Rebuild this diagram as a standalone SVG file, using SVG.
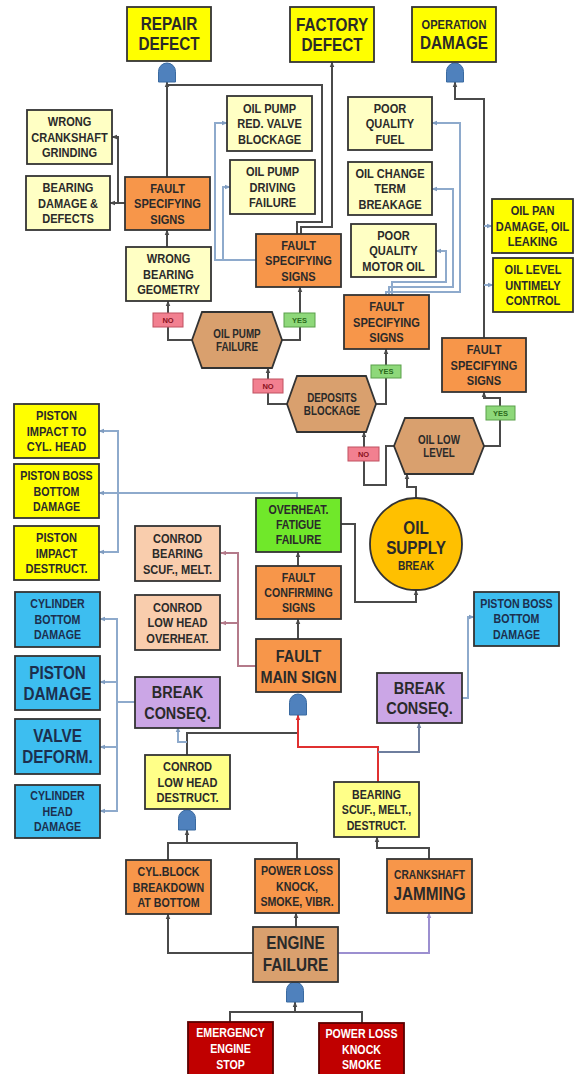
<svg xmlns="http://www.w3.org/2000/svg" width="575" height="1074" viewBox="0 0 575 1074">
<style>
text{font-family:"Liberation Sans",Arial,sans-serif;font-weight:bold;text-anchor:middle;fill:#2a2a2a;font-size:13px}
.m{font-size:12.5px}.l{font-size:18px}.k{font-size:17px}.h{font-size:12px}.xs{font-size:7.5px}
.w{fill:#fff}.nv{fill:#1c2f4e}.rn{fill:#8a1020}.gn{fill:#2a6a1a}
rect,polygon,circle{stroke:#333;stroke-width:1.8}
.yl{fill:#ffff00}.py{fill:#ffffc4}.ly{fill:#ffff88}.or{fill:#f7964a}.tn{fill:#d9a06e}.bl{fill:#3dbef0}.pu{fill:#cba6e6}.pe{fill:#f9cdad}.gr{fill:#70e82a}.dr{fill:#c00000;stroke:#5a0000}
.yes{fill:#8ed87a;stroke:#5aa04a;stroke-width:1}.no{fill:#f28090;stroke:#c05060;stroke-width:1}
.gate{fill:#4f81bd;stroke:#3a6aa0;stroke-width:1}
#connectors path{fill:none;stroke-width:2}
.d{stroke:#4a4a4a}.b{stroke:#8eaacc}.mv{stroke:#b47a8a}.r{stroke:#e03030}.p{stroke:#9c8fd0}.g2{stroke:#6e7e9e}
</style>
<defs>
<marker id="ad" viewBox="0 0 10 10" refX="9" refY="5" markerWidth="6" markerHeight="6" markerUnits="userSpaceOnUse" orient="auto"><path d="M0,1 L10,5 L0,9 z" fill="#4a4a4a"/></marker>
<marker id="ab" viewBox="0 0 10 10" refX="9" refY="5" markerWidth="6" markerHeight="6" markerUnits="userSpaceOnUse" orient="auto"><path d="M0,1 L10,5 L0,9 z" fill="#7f9cc0"/></marker>
<marker id="am" viewBox="0 0 10 10" refX="9" refY="5" markerWidth="6" markerHeight="6" markerUnits="userSpaceOnUse" orient="auto"><path d="M0,1 L10,5 L0,9 z" fill="#b47a8a"/></marker>
<marker id="ar" viewBox="0 0 10 10" refX="9" refY="5" markerWidth="6" markerHeight="6" markerUnits="userSpaceOnUse" orient="auto"><path d="M0,1 L10,5 L0,9 z" fill="#e03030"/></marker>
<marker id="ap" viewBox="0 0 10 10" refX="9" refY="5" markerWidth="6" markerHeight="6" markerUnits="userSpaceOnUse" orient="auto"><path d="M0,1 L10,5 L0,9 z" fill="#9c8fd0"/></marker>
<marker id="ag" viewBox="0 0 10 10" refX="9" refY="5" markerWidth="6" markerHeight="6" markerUnits="userSpaceOnUse" orient="auto"><path d="M0,1 L10,5 L0,9 z" fill="#6e7e9e"/></marker>
</defs>

<g id="connectors">
<path class="d" d="M167,177 V82" marker-end="url(#ad)"/>
<path class="d" d="M297,234 V222 H322 V85 H167"/>
<path class="d" d="M301,234 V227 H332 V62" marker-end="url(#ad)"/>
<path class="d" d="M125,203 H110" marker-end="url(#ad)"/>
<path class="d" d="M118,203 V137 H112" marker-end="url(#ad)"/>
<path class="b" d="M256,260 H215 V123 H227" marker-end="url(#ab)"/>
<path class="b" d="M223,260 V187 H230" marker-end="url(#ab)"/>
<path class="d" d="M167,247 V230" marker-end="url(#ad)"/>
<path class="d" d="M192,340 H168 V301" marker-end="url(#ad)"/>
<path class="d" d="M282,340 H300 V287" marker-end="url(#ad)"/>
<path class="d" d="M287,404 H268 V368" marker-end="url(#ad)"/>
<path class="d" d="M376,404 H386 V349" marker-end="url(#ad)"/>
<path class="d" d="M394,446 H386 V485 H364 V432" marker-end="url(#ad)"/>
<path class="d" d="M484,446 H500 V398 H484 V392" marker-end="url(#ad)"/>
<path class="d" d="M484,338 V99 H455 V82" marker-end="url(#ad)"/>
<path class="b" d="M484,226 H492" marker-end="url(#ab)"/>
<path class="b" d="M484,285 H493" marker-end="url(#ab)"/>
<path class="b" d="M386,295 V292 H460 V123 H432" marker-end="url(#ab)"/>
<path class="b" d="M389,295 V287 H453 V189 H432" marker-end="url(#ab)"/>
<path class="b" d="M392,295 V282 H446 V251 H436" marker-end="url(#ab)"/>
<path class="d" d="M416,498 V487 H407 V474" marker-end="url(#ad)"/>
<path class="d" d="M341,524 H355 V602 H416 V590" marker-end="url(#ad)"/>
<path class="d" d="M298,566 V552" marker-end="url(#ad)"/>
<path class="d" d="M298,639 V619" marker-end="url(#ad)"/>
<path class="b" d="M297,498 V493 H99" marker-end="url(#ab)"/>
<path class="b" d="M118,493 V431 H99" marker-end="url(#ab)"/>
<path class="b" d="M118,493 V552 H99" marker-end="url(#ab)"/>
<path class="mv" d="M256,666 H238 V553 H221" marker-end="url(#am)"/>
<path class="mv" d="M238,623 H221" marker-end="url(#am)"/>
<path class="b" d="M135,702 H117 V619 H100" marker-end="url(#ab)"/>
<path class="b" d="M117,682 H100" marker-end="url(#ab)"/>
<path class="b" d="M117,702 V811 H100" marker-end="url(#ab)"/>
<path class="b" d="M117,747 H100" marker-end="url(#ab)"/>
<path class="b" d="M462,698 H468 V617 H474" marker-end="url(#ab)"/>
<path class="d" d="M187,755 V733 H298"/>
<path class="b" d="M187,742 H178 V727" marker-end="url(#ab)"/>
<path class="r" d="M378,782 V747 H298 V715" marker-end="url(#ar)"/>
<path class="g2" d="M378,752 H419 V723" marker-end="url(#ag)"/>
<path class="d" d="M429,859 V848 H377 V837" marker-end="url(#ad)"/>
<path class="d" d="M168,860 V843 H297 V859"/>
<path class="d" d="M187,843 V830" marker-end="url(#ad)"/>
<path class="d" d="M253,953 H168 V914" marker-end="url(#ad)"/>
<path class="d" d="M296,927 V913" marker-end="url(#ad)"/>
<path class="p" d="M338,953 H429 V913" marker-end="url(#ap)"/>
<path class="d" d="M230,1022 V1012 H362 V1023"/>
<path class="d" d="M295,1012 V1002" marker-end="url(#ad)"/>
</g>

<g id="gate-repair"><path class="gate" d="M158.5,82 V71.5 A8.5,8.5 0 0 1 175.5,71.5 V82 Z"/></g>
<g id="gate-operation"><path class="gate" d="M446.5,82 V71.5 A8.5,8.5 0 0 1 463.5,71.5 V82 Z"/></g>
<g id="gate-main"><path class="gate" d="M289.5,715 V702.5 A8.5,8.5 0 0 1 306.5,702.5 V715 Z"/></g>
<g id="gate-conrod"><path class="gate" d="M178.5,830 V818.5 A8.5,8.5 0 0 1 195.5,818.5 V830 Z"/></g>
<g id="gate-engine"><path class="gate" d="M286.5,1002 V990.5 A8.5,8.5 0 0 1 303.5,990.5 V1002 Z"/></g>

<g id="repair-defect"><rect class="yl" x="127" y="7" width="84" height="54"/><text class="l" transform="translate(169,0) scale(.85,1)"><tspan x="0" y="30.5">REPAIR</tspan><tspan x="0" y="50.5">DEFECT</tspan></text></g>
<g id="factory-defect"><rect class="yl" x="290" y="7" width="84" height="55"/><text class="l" transform="translate(332,0) scale(.85,1)"><tspan x="0" y="31">FACTORY</tspan><tspan x="0" y="51">DEFECT</tspan></text></g>
<g id="operation-damage"><rect class="yl" x="412" y="7" width="84" height="55"/><text transform="translate(454,0) scale(.85,1)"><tspan x="0" y="28.7">OPERATION</tspan><tspan class="l" x="0" y="49.5">DAMAGE</tspan></text></g>

<g id="wrong-crankshaft"><rect class="py" x="27" y="110" width="85" height="54"/><text transform="translate(69.5,0) scale(.85,1)"><tspan x="0" y="126.2">WRONG</tspan><tspan x="0" y="141.7">CRANKSHAFT</tspan><tspan x="0" y="157.2">GRINDING</tspan></text></g>
<g id="bearing-damage"><rect class="py" x="26" y="176" width="84" height="54"/><text transform="translate(68,0) scale(.85,1)"><tspan x="0" y="192.2">BEARING</tspan><tspan x="0" y="207.7">DAMAGE &amp;</tspan><tspan x="0" y="223.2">DEFECTS</tspan></text></g>
<g id="fault-spec-1"><rect class="or" x="125" y="177" width="85" height="53"/><text transform="translate(167.5,0) scale(.85,1)"><tspan x="0" y="192.7">FAULT</tspan><tspan x="0" y="208.2">SPECIFYING</tspan><tspan x="0" y="223.7">SIGNS</tspan></text></g>
<g id="oil-pump-valve"><rect class="py" x="227" y="96" width="85" height="55"/><text transform="translate(269.5,0) scale(.85,1)"><tspan x="0" y="112.7">OIL PUMP</tspan><tspan x="0" y="128.2">RED. VALVE</tspan><tspan x="0" y="143.7">BLOCKAGE</tspan></text></g>
<g id="oil-pump-driving"><rect class="py" x="230" y="160" width="85" height="54"/><text transform="translate(272.5,0) scale(.85,1)"><tspan x="0" y="176.2">OIL PUMP</tspan><tspan x="0" y="191.7">DRIVING</tspan><tspan x="0" y="207.2">FAILURE</tspan></text></g>
<g id="fault-spec-2"><rect class="or" x="256" y="234" width="85" height="53"/><text transform="translate(298.5,0) scale(.85,1)"><tspan x="0" y="249.7">FAULT</tspan><tspan x="0" y="265.2">SPECIFYING</tspan><tspan x="0" y="280.7">SIGNS</tspan></text></g>
<g id="wrong-bearing"><rect class="py" x="126" y="247" width="85" height="54"/><text transform="translate(168.5,0) scale(.85,1)"><tspan x="0" y="263.2">WRONG</tspan><tspan x="0" y="278.7">BEARING</tspan><tspan x="0" y="294.2">GEOMETRY</tspan></text></g>
<g id="poor-fuel"><rect class="py" x="348" y="97" width="84" height="53"/><text transform="translate(390,0) scale(.85,1)"><tspan x="0" y="112.7">POOR</tspan><tspan x="0" y="128.2">QUALITY</tspan><tspan x="0" y="143.7">FUEL</tspan></text></g>
<g id="oil-change"><rect class="py" x="348" y="162" width="84" height="53"/><text transform="translate(390,0) scale(.85,1)"><tspan x="0" y="177.7">OIL CHANGE</tspan><tspan x="0" y="193.2">TERM</tspan><tspan x="0" y="208.7">BREAKAGE</tspan></text></g>
<g id="poor-oil"><rect class="py" x="351" y="224" width="85" height="53"/><text transform="translate(393.5,0) scale(.85,1)"><tspan x="0" y="239.7">POOR</tspan><tspan x="0" y="255.2">QUALITY</tspan><tspan x="0" y="270.7">MOTOR OIL</tspan></text></g>
<g id="oil-pan"><rect class="yl" x="492" y="199" width="81" height="54"/><text transform="translate(532.5,0) scale(.85,1)"><tspan x="0" y="215.2">OIL PAN</tspan><tspan x="0" y="230.7">DAMAGE, OIL</tspan><tspan x="0" y="246.2">LEAKING</tspan></text></g>
<g id="oil-level-control"><rect class="yl" x="493" y="258" width="80" height="54"/><text transform="translate(533,0) scale(.85,1)"><tspan x="0" y="274.2">OIL LEVEL</tspan><tspan x="0" y="289.7">UNTIMELY</tspan><tspan x="0" y="305.2">CONTROL</tspan></text></g>
<g id="fault-spec-3"><rect class="or" x="344" y="295" width="85" height="54"/><text transform="translate(386.5,0) scale(.85,1)"><tspan x="0" y="311.2">FAULT</tspan><tspan x="0" y="326.7">SPECIFYING</tspan><tspan x="0" y="342.2">SIGNS</tspan></text></g>
<g id="fault-spec-4"><rect class="or" x="442" y="338" width="84" height="54"/><text transform="translate(484,0) scale(.85,1)"><tspan x="0" y="354.2">FAULT</tspan><tspan x="0" y="369.7">SPECIFYING</tspan><tspan x="0" y="385.2">SIGNS</tspan></text></g>

<g id="oil-pump-failure"><polygon class="tn" points="192,340 202,312 272,312 282,340 272,368 202,368"/><text class="h" transform="translate(237,0) scale(.82,1)"><tspan x="0" y="337.8">OIL PUMP</tspan><tspan x="0" y="350.8">FAILURE</tspan></text></g>
<g id="deposits-blockage"><polygon class="tn" points="287,404 297,376 366,376 376,404 366,432 297,432"/><text class="h" transform="translate(332,0) scale(.82,1)"><tspan x="0" y="401.8">DEPOSITS</tspan><tspan x="0" y="414.8">BLOCKAGE</tspan></text></g>
<g id="oil-low-level"><polygon class="tn" points="394,446 405,418 473,418 484,446 473,474 405,474"/><text class="h" transform="translate(439,0) scale(.82,1)"><tspan x="0" y="443.8">OIL  LOW</tspan><tspan x="0" y="456.8">LEVEL</tspan></text></g>

<g id="no-1"><rect class="no" x="153" y="313" width="30" height="14"/><text class="xs rn" x="168" y="322.7">NO</text></g>
<g id="yes-1"><rect class="yes" x="284" y="313" width="31" height="14"/><text class="xs gn" x="299.5" y="322.7">YES</text></g>
<g id="no-2"><rect class="no" x="253" y="379" width="30" height="14"/><text class="xs rn" x="268" y="388.7">NO</text></g>
<g id="yes-2"><rect class="yes" x="371" y="365" width="30" height="13"/><text class="xs gn" x="386" y="374.2">YES</text></g>
<g id="no-3"><rect class="no" x="348" y="447" width="31" height="14"/><text class="xs rn" x="363.5" y="456.7">NO</text></g>
<g id="yes-3"><rect class="yes" x="486" y="406" width="29" height="14"/><text class="xs gn" x="500.5" y="415.7">YES</text></g>

<g id="piston-impact-head"><rect class="yl" x="14" y="404" width="85" height="54"/><text transform="translate(56.5,0) scale(.85,1)"><tspan x="0" y="420.2">PISTON</tspan><tspan x="0" y="435.7">IMPACT TO</tspan><tspan x="0" y="451.2">CYL. HEAD</tspan></text></g>
<g id="piston-boss-left"><rect class="yl" x="14" y="464" width="85" height="54"/><text class="m" transform="translate(56.5,0) scale(.85,1)"><tspan x="0" y="480.2">PISTON BOSS</tspan><tspan x="0" y="495.7">BOTTOM</tspan><tspan x="0" y="511.2">DAMAGE</tspan></text></g>
<g id="piston-impact-destruct"><rect class="yl" x="14" y="526" width="85" height="54"/><text transform="translate(56.5,0) scale(.85,1)"><tspan x="0" y="542.2">PISTON</tspan><tspan x="0" y="557.7">IMPACT</tspan><tspan x="0" y="573.2">DESTRUCT.</tspan></text></g>

<g id="overheat"><rect class="gr" x="256" y="498" width="85" height="54"/><text class="m" transform="translate(298.5,0) scale(.85,1)"><tspan x="0" y="514.5">OVERHEAT.</tspan><tspan x="0" y="529.5">FATIGUE</tspan><tspan x="0" y="544.5">FAILURE</tspan></text></g>
<g id="oil-supply-break"><circle fill="#ffc000" cx="416" cy="544" r="46"/><text class="l" transform="translate(416,0) scale(.85,1)"><tspan x="0" y="534.5">OIL</tspan><tspan x="0" y="554.5">SUPPLY</tspan><tspan class="h" x="0" y="570.3">BREAK</tspan></text></g>
<g id="conrod-bearing"><rect class="pe" x="135" y="526" width="85" height="55"/><text transform="translate(177.5,0) scale(.85,1)"><tspan x="0" y="542.7">CONROD</tspan><tspan x="0" y="558.2">BEARING</tspan><tspan x="0" y="573.7">SCUF., MELT.</tspan></text></g>
<g id="fault-confirming"><rect class="or" x="256" y="566" width="85" height="53"/><text class="m" transform="translate(298.5,0) scale(.85,1)"><tspan x="0" y="582">FAULT</tspan><tspan x="0" y="597">CONFIRMING</tspan><tspan x="0" y="612">SIGNS</tspan></text></g>
<g id="conrod-overheat"><rect class="pe" x="135" y="595" width="85" height="55"/><text transform="translate(177.5,0) scale(.85,1)"><tspan x="0" y="611.7">CONROD</tspan><tspan x="0" y="627.2">LOW HEAD</tspan><tspan x="0" y="642.7">OVERHEAT.</tspan></text></g>
<g id="fault-main"><rect class="or" x="256" y="639" width="85" height="53"/><text class="k" transform="translate(298.5,0) scale(.85,1)"><tspan x="0" y="662">FAULT</tspan><tspan x="0" y="683">MAIN SIGN</tspan></text></g>

<g id="cylinder-bottom"><rect class="bl" x="15" y="592" width="85" height="55"/><text class="m nv" transform="translate(57.5,0) scale(.85,1)"><tspan x="0" y="608.5">CYLINDER</tspan><tspan x="0" y="624">BOTTOM</tspan><tspan x="0" y="639.5">DAMAGE</tspan></text></g>
<g id="piston-damage"><rect class="bl" x="15" y="656" width="85" height="54"/><text class="l nv" transform="translate(57.5,0) scale(.85,1)"><tspan x="0" y="679.5">PISTON</tspan><tspan x="0" y="700.5">DAMAGE</tspan></text></g>
<g id="valve-deform"><rect class="bl" x="15" y="719" width="85" height="55"/><text class="l nv" transform="translate(57.5,0) scale(.85,1)"><tspan x="0" y="742.5">VALVE</tspan><tspan x="0" y="763.5">DEFORM.</tspan></text></g>
<g id="cylinder-head"><rect class="bl" x="15" y="785" width="85" height="53"/><text class="m nv" transform="translate(57.5,0) scale(.85,1)"><tspan x="0" y="800.5">CYLINDER</tspan><tspan x="0" y="816">HEAD</tspan><tspan x="0" y="831.5">DAMAGE</tspan></text></g>
<g id="break-conseq-left"><rect class="pu" x="135" y="677" width="85" height="51"/><text class="k" transform="translate(177.5,0) scale(.85,1)"><tspan x="0" y="698">BREAK</tspan><tspan x="0" y="719">CONSEQ.</tspan></text></g>
<g id="break-conseq-right"><rect class="pu" x="377" y="673" width="85" height="50"/><text class="k" transform="translate(419.5,0) scale(.85,1)"><tspan x="0" y="694">BREAK</tspan><tspan x="0" y="714">CONSEQ.</tspan></text></g>
<g id="piston-boss-right"><rect class="bl" x="474" y="592" width="85" height="54"/><text class="m nv" transform="translate(516.5,0) scale(.85,1)"><tspan x="0" y="608">PISTON BOSS</tspan><tspan x="0" y="623.5">BOTTOM</tspan><tspan x="0" y="639">DAMAGE</tspan></text></g>

<g id="conrod-destruct"><rect class="ly" x="145" y="755" width="85" height="54"/><text transform="translate(187.5,0) scale(.85,1)"><tspan x="0" y="771.2">CONROD</tspan><tspan x="0" y="786.7">LOW HEAD</tspan><tspan x="0" y="802.2">DESTRUCT.</tspan></text></g>
<g id="bearing-scuf"><rect class="ly" x="334" y="782" width="85" height="55"/><text class="m" transform="translate(376.5,0) scale(.85,1)"><tspan x="0" y="798.7">BEARING</tspan><tspan x="0" y="814.2">SCUF., MELT.,</tspan><tspan x="0" y="829.7">DESTRUCT.</tspan></text></g>
<g id="cyl-block"><rect class="or" x="126" y="860" width="85" height="54"/><text class="m" transform="translate(168.5,0) scale(.85,1)"><tspan x="0" y="876.2">CYL.BLOCK</tspan><tspan x="0" y="891.7">BREAKDOWN</tspan><tspan x="0" y="907.2">AT BOTTOM</tspan></text></g>
<g id="power-loss-vibr"><rect class="or" x="255" y="859" width="84" height="54"/><text class="m" transform="translate(297,0) scale(.85,1)"><tspan x="0" y="875.2">POWER LOSS</tspan><tspan x="0" y="890.7">KNOCK,</tspan><tspan x="0" y="906.2">SMOKE, VIBR.</tspan></text></g>
<g id="crankshaft-jamming"><rect class="or" x="387" y="859" width="85" height="54"/><text transform="translate(429.5,0) scale(.85,1)"><tspan class="h" x="0" y="879.3">CRANKSHAFT</tspan><tspan class="l" x="0" y="900.5">JAMMING</tspan></text></g>
<g id="engine-failure"><rect class="tn" x="253" y="927" width="85" height="55"/><text class="l" transform="translate(295.5,0) scale(.85,1)"><tspan x="0" y="949.5">ENGINE</tspan><tspan x="0" y="971.5">FAILURE</tspan></text></g>
<g id="emergency-stop"><rect class="dr" x="188" y="1022" width="85" height="56"/><text class="m w" transform="translate(230.5,0) scale(.85,1)"><tspan x="0" y="1037.5">EMERGENCY</tspan><tspan x="0" y="1053.5">ENGINE</tspan><tspan x="0" y="1069.5">STOP</tspan></text></g>
<g id="power-loss-smoke"><rect class="dr" x="319" y="1023" width="85" height="55"/><text class="m w" transform="translate(361.5,0) scale(.85,1)"><tspan x="0" y="1038">POWER LOSS</tspan><tspan x="0" y="1054">KNOCK</tspan><tspan x="0" y="1069.5">SMOKE</tspan></text></g>
</svg>
